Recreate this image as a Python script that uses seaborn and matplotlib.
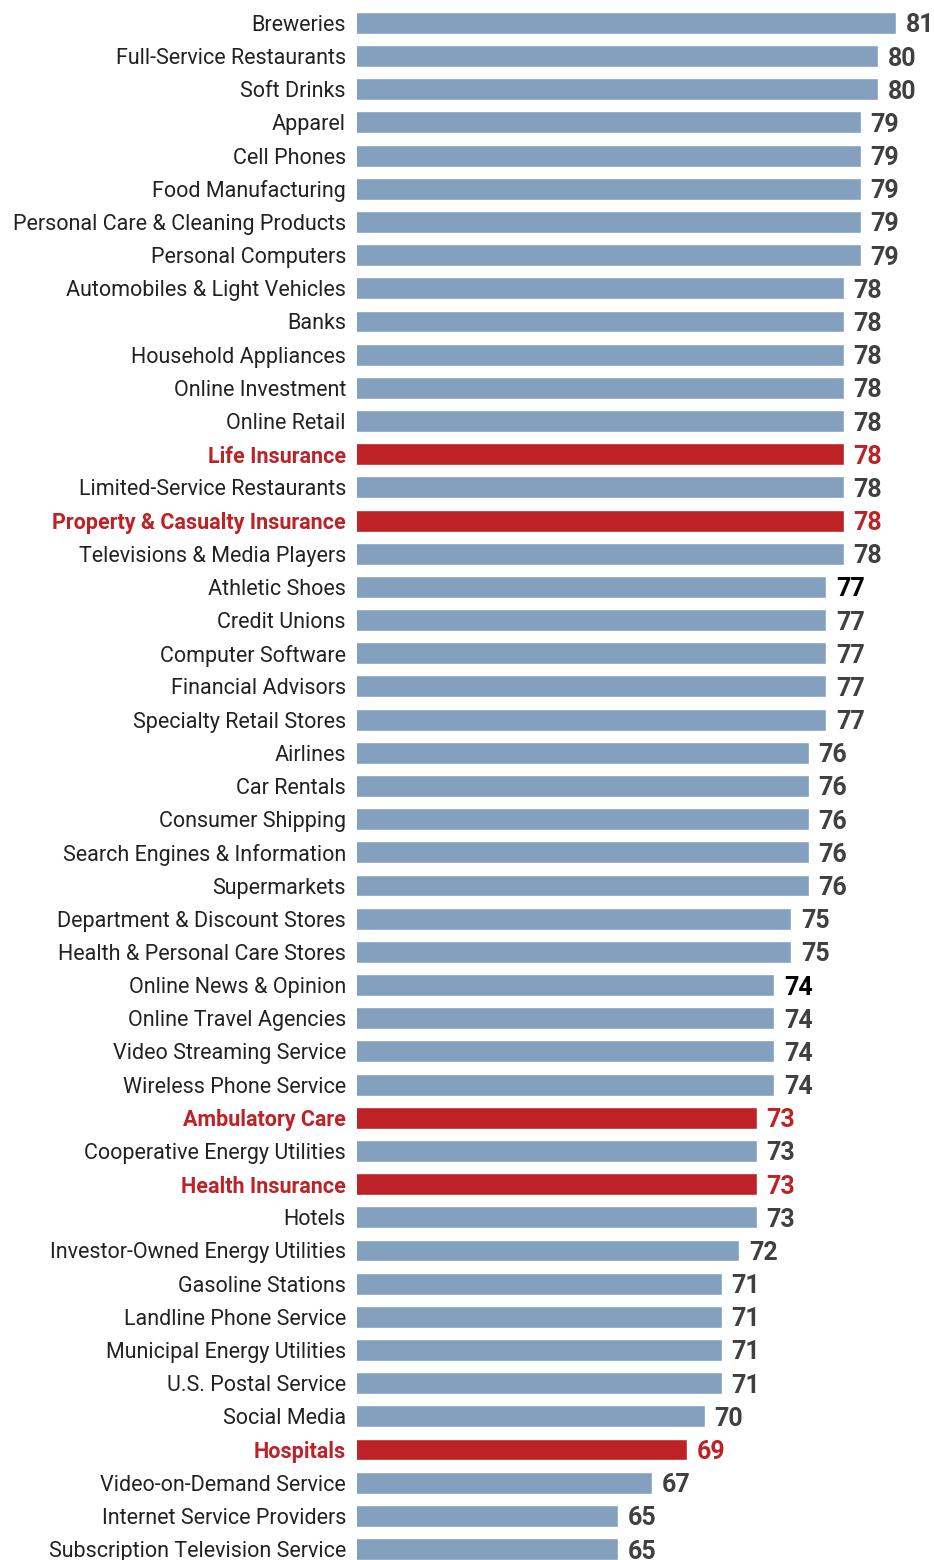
import matplotlib
matplotlib.use("Agg")
import matplotlib.pyplot as plt
from matplotlib import font_manager
import seaborn as sns
import pandas as pd

categories = [
    "Breweries", "Full-Service Restaurants", "Soft Drinks", "Apparel", "Cell Phones",
    "Food Manufacturing", "Personal Care & Cleaning Products", "Personal Computers",
    "Automobiles & Light Vehicles", "Banks", "Household Appliances", "Online Investment",
    "Online Retail", "Life Insurance", "Limited-Service Restaurants",
    "Property & Casualty Insurance", "Televisions & Media Players", "Athletic Shoes",
    "Credit Unions", "Computer Software", "Financial Advisors", "Specialty Retail Stores",
    "Airlines", "Car Rentals", "Consumer Shipping", "Search Engines & Information",
    "Supermarkets", "Department & Discount Stores", "Health & Personal Care Stores",
    "Online News & Opinion", "Online Travel Agencies", "Video Streaming Service",
    "Wireless Phone Service", "Ambulatory Care", "Cooperative Energy Utilities",
    "Health Insurance", "Hotels", "Investor-Owned Energy Utilities", "Gasoline Stations",
    "Landline Phone Service", "Municipal Energy Utilities", "U.S. Postal Service",
    "Social Media", "Hospitals", "Video-on-Demand Service", "Internet Service Providers",
    "Subscription Television Service",
]
scores = [
    81, 80, 80, 79, 79, 79, 79, 79, 78, 78, 78, 78, 78, 78, 78, 78, 78,
    77, 77, 77, 77, 77, 76, 76, 76, 76, 76, 75, 75, 74, 74, 74, 74,
    73, 73, 73, 73, 72, 71, 71, 71, 71, 70, 69, 67, 65, 65,
]
highlighted = ["Life Insurance", "Property & Casualty Insurance", "Ambulatory Care",
               "Health Insurance", "Hospitals"]
dark_values = ["Athletic Shoes", "Online News & Opinion"]

BLUE = "#84A0BF"
RED = "#BE2227"

names = {f.name for f in font_manager.fontManager.ttflist}
family = "Liberation Sans Narrow" if "Liberation Sans Narrow" in names else "Roboto"

sns.set_theme(style="white")
plt.rcParams["font.family"] = [family, "DejaVu Sans"]

df = pd.DataFrame({"category": categories, "score": scores})
df["group"] = ["hi" if c in highlighted else "base" for c in categories]

fig = plt.figure(figsize=(9.34, 15.60), dpi=100)
ax = fig.add_axes([357 / 934, 0.0, 1 - 357 / 934, 1.0])

sns.barplot(data=df, x="score", y="category", hue="group", dodge=False,
            palette={"base": BLUE, "hi": RED}, width=0.66, legend=False, ax=ax,
            saturation=1)

ax.set_xlim(50, 83.2)
ax.set_ylim(len(categories) - 1 + 0.33, -0.69)
ax.set_xlabel("")
ax.set_ylabel("")
ax.set_xticks([])
for s in ax.spines.values():
    s.set_visible(False)
ax.tick_params(axis="y", length=0, pad=8)

for lab in ax.get_yticklabels():
    t = lab.get_text()
    lab.set_fontsize(15.5)
    if t in highlighted:
        lab.set_color(RED)
        lab.set_fontweight("bold")
    else:
        lab.set_color("#222222")

for i, (c, v) in enumerate(zip(categories, scores)):
    if c in highlighted:
        col = RED
    elif c in dark_values:
        col = "#000000"
    else:
        col = "#404040"
    ax.annotate(str(v), xy=(v, i), xytext=(7, 0), textcoords="offset points",
                va="center_baseline", ha="left", fontsize=18, fontweight="bold",
                color=col, annotation_clip=False)

fig.savefig("out.png", dpi=100)
